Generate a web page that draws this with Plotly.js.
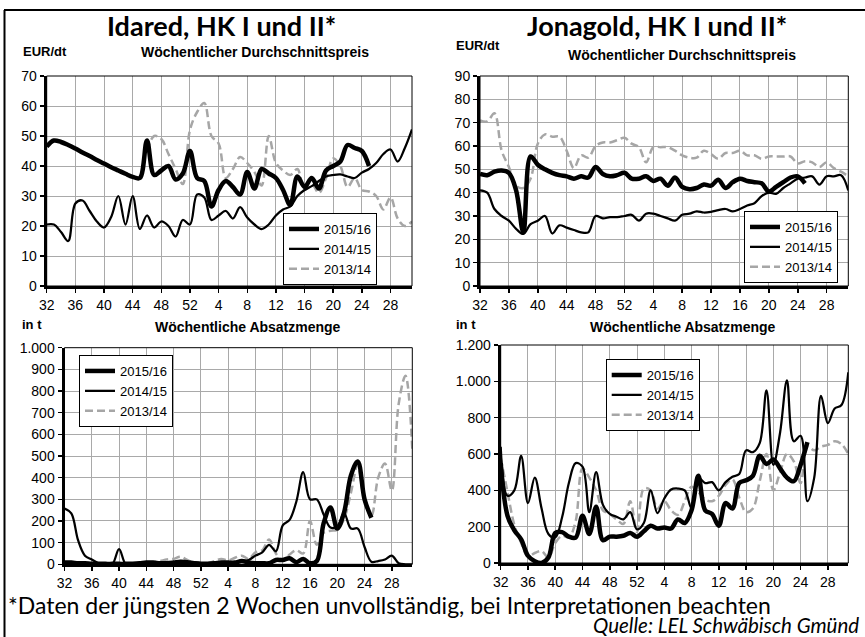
<!DOCTYPE html>
<html><head><meta charset="utf-8">
<script src="https://cdn.plot.ly/plotly-3.0.1.min.js"></script>
<style>html,body{margin:0;padding:0;background:#fff}#chart{width:865px;height:637px}</style>
</head><body><div id="chart"></div>
<script>
// ---------- DATA ----------
const weeks = ['32','33','34','35','36','37','38','39','40','41','42','43','44','45','46','47','48','49','50','51','52',
  '1','2','3','4','5','6','7','8','9','10','11','12','13','14','15','16','17','18','19','20','21','22','23','24','25','26','27','28','29','30','31'];
const tickWeeks = ['32','36','40','44','48','52','4','8','12','16','20','24','28'];
const seasons = ['2015/16','2014/15','2013/14'];
const N = null;

// Idared, Wöchentlicher Durchschnittspreis (EUR/dt)
const idaredPrice1516 = [46.5,48.5,48,47,45.8,44.5,43.3,42,40.8,39.6,38.5,37.4,36.4,36,48.5,37,38.5,40,35.5,37.5,45,36,35,26.5,32,35,33,30.5,38,32.5,39,37.5,36,32,27,36.5,33,36,32.5,38.5,40,41.5,47,46,45,40,N,N,N,N,N,N];
const idaredPrice1415 = [20.5,20.5,18,15,27.5,28.5,25,21.5,19.5,23,30,20.5,30,19,23.5,19.5,21.5,20,16.5,22,20.5,30.5,29.5,22,23.5,25,22.5,26.3,22.8,20.5,19,20.5,23.5,25.5,26.5,30,32,33.3,35,36.5,37,37.2,36.5,36,37.8,39,41,44,45.5,41.5,46,52.2];
const idaredPrice1314 = [N,N,N,N,N,N,N,N,N,N,N,N,N,N,45,50,49,44,39,34,52,58,61,50,47.5,36,39,43,41,38,33.5,50,41,38.5,37,39,32,34,31,36,42.5,40,33,36,32,31.5,30,25.5,29.5,22.5,20,21.5];

// Jonagold, Wöchentlicher Durchschnittspreis (EUR/dt)
const jonaPrice1516 = [48,47.5,49,49.5,48.5,41,23,55.5,52,50,48.5,47.5,47,46,47,46.5,51,48,47,47.5,48.5,46,46,47,45,46,43,46.5,42.5,41.5,42,43.5,43,45.5,42,44.5,46,45,44.5,44,40.5,42.5,44.5,46.5,47,44,N,N,N,N,N,N];
const jonaPrice1415 = [41,40,33,30,28,24.5,22.3,26.5,28,30,22.5,26,25,24,23,23,30,29,29.5,29.5,30,30.5,28,31,31,30,29,28,30.5,31,32,31.5,31.8,32.5,33,32,33,34.5,35.5,38.5,40,39.5,42,44,46,46.5,47,43.5,47,47,47.5,41];
const jonaPrice1314 = [71,70.5,74,58,51,43,42,46,61,65,64,64,58,50.5,56,55,60,61.5,61.5,62.5,63.5,61,59.5,53,59.5,59.5,59.5,58,56,55,55,58,56.5,54.5,57,57,58,56,56,54.5,55.5,55.5,55.5,55.5,52.5,53.5,53,51,53,50.5,49,47];

// Idared, Wöchentliche Absatzmenge (t)
const idaredVol1516 = [8,8,5,5,3,3,2,2,2,2,3,5,8,8,5,5,8,12,10,5,3,3,5,8,8,8,15,8,5,5,5,20,20,28,10,25,5,15,190,262,165,240,410,475,300,215,N,N,N,N,N,N];
const idaredVol1415 = [258,235,110,40,22,5,0,0,70,0,0,0,2,5,8,5,3,5,8,10,5,3,5,8,5,8,15,20,40,55,90,60,180,205,290,425,300,300,230,170,175,235,165,165,80,12,15,22,40,5,0,0];
const idaredVol1314 = [5,5,3,3,3,3,3,3,3,5,5,5,8,10,15,22,25,35,20,8,5,5,15,25,18,30,40,25,55,65,115,50,15,45,65,50,200,90,145,155,160,210,330,460,290,225,400,465,340,740,870,530];

// Jonagold, Wöchentliche Absatzmenge (t)
const jonaVol1516 = [550,260,180,130,40,10,0,30,165,170,145,140,260,160,310,125,145,145,150,165,145,175,205,190,195,190,240,220,290,480,290,270,205,330,300,440,455,480,590,545,570,520,470,450,540,665,N,N,N,N,N,N];
const jonaVol1415 = [640,370,400,590,330,470,300,160,140,250,440,550,530,280,500,320,270,255,240,280,185,220,400,275,355,405,410,400,300,470,440,445,400,445,475,490,620,610,660,950,540,720,1005,670,700,340,470,920,770,850,870,1050];
const jonaVol1314 = [580,390,210,110,35,55,65,30,110,150,140,230,520,470,400,290,270,240,215,340,170,410,400,300,340,290,265,340,420,390,350,340,370,430,460,360,280,300,450,600,400,500,600,560,440,640,620,640,650,670,655,600];

// ---------- STYLE ----------
const W = 865, H = 637;
const px = p => p / W;
const py = p => 1 - p / H;
const AX = 'Liberation Sans, Arial, sans-serif';
const HUM = 'Lato, Open Sans, sans-serif';
const styles = [
  {color:'#000000', width:4.5},
  {color:'#000000', width:2.25},
  {color:'#a6a6a6', width:2.5, dash:'8px,4px'}
];

const panels = [
  {data:[idaredPrice1516, idaredPrice1415, idaredPrice1314], yr:[0,70], dt:10, dom:[46.7,412,76,286], leg:[283,213]},
  {data:[jonaPrice1516, jonaPrice1415, jonaPrice1314], yr:[0,90], dt:10, dom:[480,848.3,76,286], leg:[744,211]},
  {data:[idaredVol1516, idaredVol1415, idaredVol1314], yr:[0,1000], dt:100, dom:[64.5,412.3,347.7,564.3], leg:[79,355]},
  {data:[jonaVol1516, jonaVol1415, jonaVol1314], yr:[0,1200], dt:200, dom:[500.7,848.3,345,563], leg:[605.7,359]}
];

const traces = [];
const layout = {
  width: W, height: H,
  margin: {l:0, r:0, t:0, b:0, pad:0},
  paper_bgcolor: '#ffffff', plot_bgcolor: '#ffffff',
  separators: ',.',
  showlegend: true,
  font: {family: AX, color: '#000'},
  annotations: [], shapes: []
};

panels.forEach((p, i) => {
  const n = i === 0 ? '' : String(i + 1);
  const legName = 'legend' + n;
  [2, 1, 0].forEach(k => {
    traces.push({
      type: 'scatter', mode: 'lines',
      x: weeks, y: p.data[k], name: seasons[k],
      line: Object.assign({shape: 'spline', smoothing: 1}, styles[k]),
      xaxis: 'x' + n, yaxis: 'y' + n, legend: legName,
      hoverinfo: 'skip', connectgaps: false
    });
  });
  layout['xaxis' + n] = {
    domain: [px(p.dom[0]), px(p.dom[1])], anchor: 'y' + n,
    type: 'category', categoryorder: 'array', categoryarray: weeks,
    range: [0, 51], tickmode: 'array', tickvals: tickWeeks, ticktext: tickWeeks,
    showgrid: true, gridcolor: '#a9a9a9', gridwidth: 1,
    showline: true, linecolor: '#000', linewidth: 3,
    ticks: 'outside', ticklen: 4, tickwidth: 1.5, tickcolor: '#000',
    tickfont: {family: AX, size: 14, color: '#000'}, zeroline: false, automargin: false
  };
  layout['yaxis' + n] = {
    domain: [py(p.dom[3]), py(p.dom[2])], anchor: 'x' + n,
    range: p.yr, tick0: 0, dtick: p.dt, tickformat: ',d',
    showgrid: true, gridcolor: '#a9a9a9', gridwidth: 1,
    showline: true, linecolor: '#000', linewidth: 3,
    ticks: 'outside', ticklen: 4, tickwidth: 1.5, tickcolor: '#000',
    tickfont: {family: AX, size: 14, color: '#000'}, zeroline: false, automargin: false
  };
  layout[legName] = {
    x: px(p.leg[0]), y: py(p.leg[1]), xanchor: 'left', yanchor: 'top',
    bgcolor: '#ffffff', bordercolor: '#000', borderwidth: 1,
    font: {family: AX, size: 13, color: '#000'}, traceorder: 'reversed'
  };
  layout.shapes.push({type: 'rect', xref: 'x' + n + ' domain', yref: 'y' + n + ' domain',
    x0: 0, x1: 1, y0: 0, y1: 1, line: {color: '#000', width: 1}, layer: 'above'});
});

// outer frame
layout.shapes.push({type:'line', xref:'paper', yref:'paper', x0:px(4), x1:1, y0:py(10), y1:py(10), line:{color:'#000', width:2}});
layout.shapes.push({type:'line', xref:'paper', yref:'paper', x0:px(4.5), x1:px(4.5), y0:py(10), y1:0, line:{color:'#000', width:2}});

function ann(text, x, y, xa, size, fam, extra) {
  layout.annotations.push(Object.assign({
    text: text, x: px(x), y: py(y), xref: 'paper', yref: 'paper',
    xanchor: xa, yanchor: 'middle', showarrow: false,
    font: {family: fam, size: size, color: '#000'}
  }, extra || {}));
}
ann('<b>Idared, HK I und II*</b>', 222, 25, 'center', 27, HUM);
ann('<b>Jonagold, HK I und II*</b>', 657, 25, 'center', 27, HUM);
ann('<b>EUR/dt</b>', 21, 52, 'left', 13, AX);
ann('<b>Wöchentlicher Durchschnittspreis</b>', 255, 52, 'center', 14, AX);
ann('<b>EUR/dt</b>', 454, 45, 'left', 13, AX);
ann('<b>Wöchentlicher Durchschnittspreis</b>', 682, 55, 'center', 14, AX);
ann('<b>in t</b>', 20, 324, 'left', 13, AX);
ann('<b>Wöchentliche Absatzmenge</b>', 248, 327, 'center', 14, AX);
ann('<b>in t</b>', 454, 324, 'left', 13, AX);
ann('<b>Wöchentliche Absatzmenge</b>', 683, 327, 'center', 14, AX);
ann('*Daten der jüngsten 2 Wochen unvollständig, bei Interpretationen beachten', 6, 605, 'left', 23, HUM);
ann('<i>Quelle: LEL Schwäbisch Gmünd</i>', 861, 624.5, 'right', 20.5, HUM);

Plotly.newPlot('chart', traces, layout, {displayModeBar: false, staticPlot: true});
</script></body></html>
